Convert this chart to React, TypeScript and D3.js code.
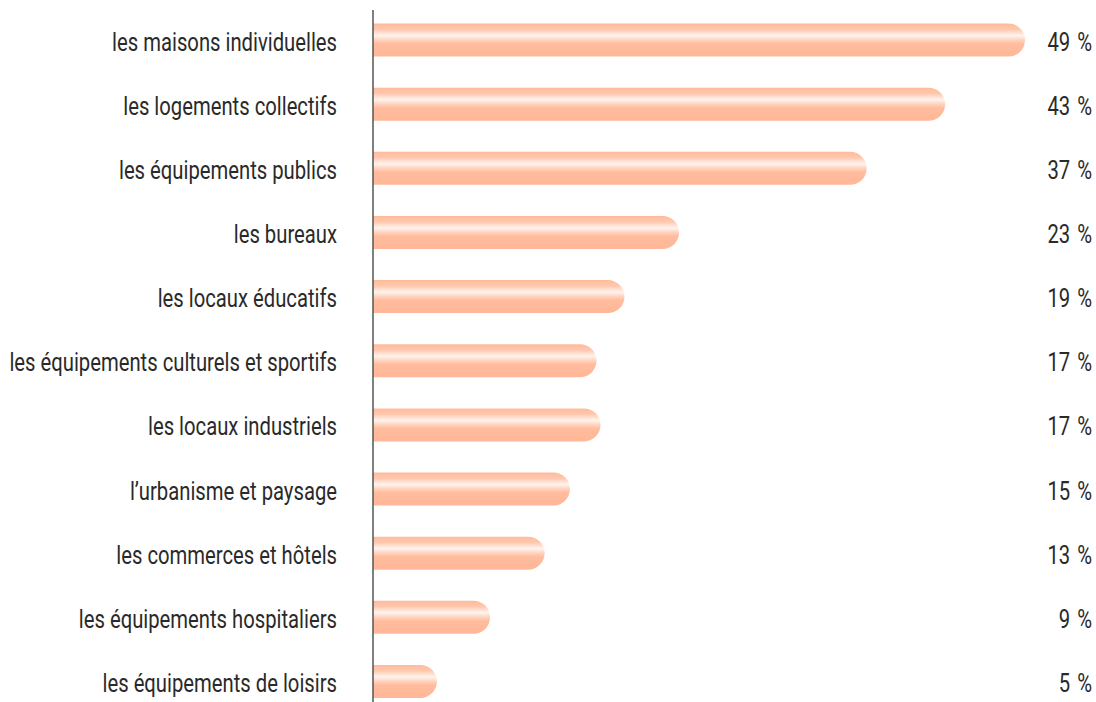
import React from "react";
import * as d3 from "d3";

const categories = [
  "les maisons individuelles",
  "les logements collectifs",
  "les équipements publics",
  "les bureaux",
  "les locaux éducatifs",
  "les équipements culturels et sportifs",
  "les locaux industriels",
  "l’urbanisme et paysage",
  "les commerces et hôtels",
  "les équipements hospitaliers",
  "les équipements de loisirs",
];
const values = [49, 43, 37.1, 23, 18.9, 16.8, 17.1, 14.8, 12.9, 8.8, 4.8];
const valueLabels = ["49", "43", "37", "23", "19", "17", "17", "15", "13", "9", "5"];

const W = 1096;
const H = 702;
const FONT = "Roboto, 'Liberation Sans', Arial, sans-serif";
const SX = 0.81;

export default function App() {
  const x = d3.scaleLinear().domain([0, 49]).range([373, 1025]);
  const y = d3
    .scaleBand<string>()
    .domain(categories)
    .range([8.2, 713.3])
    .paddingInner(0.485)
    .paddingOuter(0.24);
  const bh = 33;
  return (
    <svg width={W} height={H} style={{ position: "absolute", left: 0, top: 0 }}>
      <defs>
        <linearGradient id="barGrad" x1="0" y1="0" x2="0" y2="1">
          <stop offset="0" stopColor="#ffbb9b" />
          <stop offset="0.18" stopColor="#ffc8ae" />
          <stop offset="0.36" stopColor="#fff4ee" />
          <stop offset="0.5" stopColor="#ffd2bd" />
          <stop offset="0.62" stopColor="#ffbc9d" />
          <stop offset="1" stopColor="#ffb797" />
        </linearGradient>
      </defs>
      <rect width={W} height={H} fill="#fff" />
      {categories.map((c, i) => {
        const cy = (y(c) as number) + y.bandwidth() / 2;
        const x0 = x(0);
        const x1 = x(values[i]);
        const r = bh / 2;
        const top = cy - bh / 2;
        const path = `M${x0},${top} H${x1 - r} A${r},${r} 0 0 1 ${x1 - r},${top + bh} H${x0} Z`;
        return (
          <g key={c}>
            <path d={path} fill="url(#barGrad)" />
            <text
              transform={`translate(337,${cy + 10.5}) scale(${SX},1)`}
              textAnchor="end"
              fontFamily={FONT}
              fontSize={25}
              fill="#2a2a2a"
            >
              {c}
            </text>
            <text
              transform={`translate(1092,${cy + 10.5}) scale(${SX},1)`}
              textAnchor="end"
              fontFamily={FONT}
              fontSize={25}
              fill="#2a2a2a"
            >
              {valueLabels[i] + " "}
              <tspan dx={2.5}>%</tspan>
            </text>
          </g>
        );
      })}
      <line x1={373} x2={373} y1={10} y2={702} stroke="#555" strokeWidth={1.5} />
    </svg>
  );
}
